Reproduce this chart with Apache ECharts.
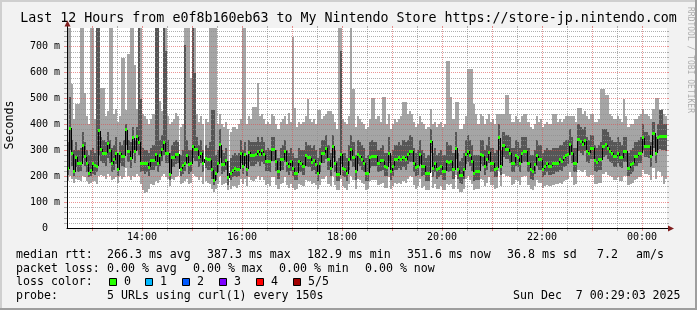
<!DOCTYPE html>
<html><head><meta charset="utf-8">
<script src="https://cdn.jsdelivr.net/npm/echarts@6/dist/echarts.min.js"></script>
<style>html,body{margin:0;padding:0;background:#f2f2f2}#c{width:697px;height:310px}</style>
</head><body><div id="c"></div>
<script>
// ---------------- data ----------------
const titleText = 'Last 12 Hours from e0f8b160eb63 to My Nintendo Store https://store-jp.nintendo.com';
const yAxisName = 'Seconds';
const watermark = 'RRDTOOL / TOBI OETIKER';
const startHour = 12.5;      // 12:30
const endHour = 24.5;        // 00:30
const stepMinutes = 2.5;     // 150 s
const yMax = 771;            // ms

const median = [
229,385,286,216,272,247,247,317,274,247,
212,221,247,240,238,375,304,289,289,324,
300,247,263,289,225,289,276,276,379,295,
266,347,295,351,330,247,250,247,250,234,
259,259,283,247,279,302,328,289,289,208,
270,270,283,285,227,240,250,279,244,247,
315,302,302,270,289,250,266,263,263,225,
182,212,247,321,244,244,259,193,212,221,
231,227,227,289,238,283,227,292,279,279,
283,295,283,298,283,257,257,257,304,302,
257,218,263,263,295,250,238,257,231,212,
212,257,250,238,279,270,270,253,261,244,
209,250,289,289,308,263,231,315,250,205,
205,285,231,225,209,263,302,270,
218,283,276,263,250,212,212,270,276,276,
276,250,259,259,238,234,289,218,238,263,
263,270,263,272,263,283,295,295,250,234,
238,283,238,238,212,212,334,231,250,225,
231,238,218,218,257,253,257,225,308,225,
202,202,225,283,295,279,257,212,218,218,
285,279,238,263,292,250,250,227,231,347,
238,317,304,304,289,250,250,279,270,250,
289,295,295,250,225,218,244,279,263,263,
227,238,250,238,238,247,250,250,263,257,
270,279,283,321,289,250,250,340,334,321,
337,295,289,308,308,259,253,263,263,315,
321,308,295,289,276,276,289,270,270,295,
295,231,244,250,276,276,289,289,347,315,
315,315,276,366,289,347,353,351,351,351
];

const smokeLightHigh = [
800,800,556,420,477,477,800,800,519,430,
400,800,800,420,800,800,538,538,430,450,
800,800,440,460,410,430,654,654,454,669,
800,800,627,460,800,800,440,430,420,400,
420,440,800,800,488,450,800,800,430,400,
410,420,442,430,390,400,800,800,800,577,
800,800,440,410,430,400,420,410,800,800,
800,800,400,438,400,390,410,380,370,390,
390,380,400,420,800,800,400,430,420,465,
465,558,430,440,420,400,410,400,440,430,
400,380,410,420,430,400,442,410,735,462,
390,410,400,410,430,496,420,410,420,400,
454,454,420,430,440,450,450,440,410,380,
800,800,420,410,400,430,800,535,
390,430,420,410,400,380,390,420,500,500,
420,431,410,504,504,400,440,380,400,420,
410,420,430,485,485,440,450,440,410,390,
400,430,410,400,380,390,460,400,410,390,
400,410,390,400,642,642,504,420,485,485,
380,380,400,431,612,612,612,477,438,400,
438,430,400,420,440,410,420,400,438,438,
438,438,512,512,440,410,410,430,420,410,
430,440,440,410,390,380,400,430,410,420,
390,400,410,400,400,438,438,410,420,410,
420,430,431,431,431,431,410,462,462,440,
450,430,420,440,440,410,410,420,535,535,
512,512,440,430,420,420,430,420,410,496,
430,390,400,400,420,420,430,440,460,440,
440,430,420,460,500,500,450,460,440,430
];

const smokeDarkHigh = [
330,504,340,300,330,300,310,370,330,300,
280,300,310,290,800,800,350,340,330,370,
340,310,320,350,290,330,320,340,400,340,
330,390,340,390,800,496,310,300,300,290,
310,320,800,800,340,360,800,681,340,290,
320,330,340,330,280,300,704,340,300,300,
800,596,350,320,340,300,320,310,330,454,
454,280,300,380,300,290,310,260,270,280,
290,280,290,340,300,330,280,340,330,330,
330,350,330,350,330,300,310,300,350,350,
300,270,310,320,340,300,290,310,290,270,
270,310,300,300,330,320,320,310,320,300,
270,310,340,340,360,320,290,360,300,260,
270,681,290,290,270,320,360,330,
280,340,330,320,310,270,280,330,340,330,
330,300,310,320,290,290,350,280,300,320,
320,330,320,340,330,340,360,350,310,290,
300,340,300,290,270,280,380,290,310,280,
290,300,280,280,330,320,320,290,370,290,
260,270,290,340,360,340,320,280,280,280,
340,340,300,320,350,310,310,290,300,400,
300,370,360,360,350,310,310,340,330,310,
350,350,350,310,280,280,300,340,320,320,
290,300,310,300,300,310,310,310,320,320,
330,340,340,380,350,310,310,400,390,380,
390,350,340,360,360,320,310,320,330,380,
380,370,350,340,330,330,350,330,320,350,
350,290,300,310,330,330,340,350,400,370,
370,360,330,410,350,400,454,454,400,400
];

const smokeDarkLow = [
205,300,240,200,235,215,220,270,240,215,
195,200,210,205,215,280,260,250,240,270,
250,215,225,245,200,250,240,235,320,255,
230,290,250,300,280,215,220,210,215,200,
225,225,240,215,240,260,280,250,250,185,
235,235,245,250,200,210,220,245,210,215,
270,260,260,235,250,215,230,225,225,190,
165,185,215,270,210,215,225,165,185,195,
200,195,200,250,210,245,200,255,240,240,
245,255,240,255,245,220,220,215,260,260,
220,190,225,225,255,215,205,220,200,185,
185,220,215,205,240,235,235,220,225,210,
180,215,250,250,265,225,200,270,215,180,
180,245,200,195,180,225,260,235,
185,245,240,225,215,180,180,230,240,240,
240,215,220,225,200,200,250,185,200,225,
225,230,225,235,225,245,255,255,215,200,
205,245,200,205,180,180,290,195,215,190,
195,205,185,185,220,215,220,190,265,190,
175,170,190,245,255,240,220,180,185,185,
245,240,205,225,250,215,215,195,195,300,
205,275,265,265,250,215,215,240,235,215,
250,255,255,215,190,185,210,240,225,225,
195,205,215,205,205,210,215,215,225,220,
235,240,245,280,250,215,215,295,290,280,
295,255,250,265,265,220,215,225,225,275,
280,265,255,250,235,235,250,235,230,255,
255,200,210,215,240,240,250,250,300,275,
275,270,235,310,250,300,305,300,300,295
];

const smokeLightLow = [
180,200,190,175,190,185,180,200,195,180,
170,175,180,180,170,200,205,200,190,210,
200,185,190,195,175,200,190,195,230,200,
185,200,195,210,200,170,145,135,140,150,
170,165,180,175,185,200,210,195,190,160,
190,185,195,200,170,175,180,190,170,175,
210,200,195,185,195,170,180,175,170,150,
140,150,170,200,165,170,175,145,150,160,
160,155,165,190,170,190,160,195,185,180,
190,200,185,195,185,165,170,160,195,195,
165,150,170,175,195,165,155,170,155,145,
150,170,165,160,185,180,180,170,175,165,
150,165,190,190,200,170,160,200,165,145,
145,190,160,155,145,170,200,185,
150,190,185,175,170,145,150,180,185,185,
185,165,170,175,155,155,195,150,160,175,
170,175,170,180,175,190,200,195,165,150,
160,190,155,160,145,145,215,155,170,150,
150,160,145,145,170,165,170,150,205,150,
140,140,150,190,200,185,170,145,150,150,
190,185,160,175,195,165,165,150,155,220,
160,210,200,200,195,165,170,185,180,165,
195,200,200,165,150,145,160,185,175,175,
155,160,165,160,160,165,170,170,175,170,
180,185,190,215,195,165,170,225,220,215,
225,200,195,205,205,170,170,175,175,210,
215,205,200,195,185,185,195,180,180,200,
200,165,170,175,185,190,195,195,225,210,
210,205,185,230,190,220,215,200,170,190
];

const hGridValues = [20,40,60,80,100,120,140,160,180,200,220,240,260,280,300,320,340,360,380,400,
  420,440,460,480,500,520,540,560,580,600,620,640,660,680,700,720,740,760];
const vGridHours = [13,13.5,14,14.5,15,15.5,16,16.5,17,17.5,18,18.5,19,19.5,20,20.5,21,21.5,22,22.5,23,23.5,24];

const rttLabel = 'median rtt:';
const rttStats = ['266.3 ms avg','387.3 ms max','182.9 ms min','351.6 ms now','36.8 ms sd','7.2','am/s'];
const lossLabel = 'packet loss:';
const lossStats = ['0.00 % avg','0.00 % max','0.00 % min','0.00 % now'];
const lossColorLabel = 'loss color:';
const lossColorNames = ['0','1','2','3','4','5/5'];
const lossColors = ['#26ff00','#00b8ff','#0059ff','#7e00ff','#ff0000','#a10000'];
const probeLabel = 'probe:';
const probeText = '5 URLs using curl(1) every 150s';
const dateText = 'Sun Dec  7 00:29:03 2025';

// ---------------- rendering ----------------
const FONT = "'DejaVu Sans Mono', 'Liberation Mono', monospace";
const stepH = stepMinutes / 60;
const n = Math.min(median.length, smokeLightHigh.length, smokeDarkHigh.length, smokeDarkLow.length, smokeLightLow.length);
const times = [];
for (let k = 0; k < n; k++) times.push(startHour + k * stepH);

const LIGHT = '#a5a5a5', DARK = '#565656';
const GRID = 'rgba(143,143,143,0.7)', MGRID = 'rgba(222,79,79,0.6)';

const smokeData = times.map((t, k) => [t, smokeLightLow[k], smokeDarkLow[k], smokeDarkHigh[k], smokeLightHigh[k]]);
const medData = times.map((t, k) => [t, median[k], k + 1 < n ? median[k + 1] : median[k]]);

function clampY(v) { return Math.max(0, Math.min(yMax, v)); }

function txt(x, y, s, size, opts) {
  opts = opts || {};
  return {
    type: 'text', x: x, y: y, silent: true, rotation: opts.rotation || 0, z: 50,
    style: {
      text: s, font: size + 'px ' + FONT, fill: opts.fill || '#000',
      textAlign: opts.align || 'left', textVerticalAlign: 'middle',
      align: opts.align || 'left', verticalAlign: 'middle'
    }
  };
}

const graphics = [];
// 3D border
graphics.push({type:'rect', silent:true, z:40, shape:{x:0,y:0,width:697,height:2}, style:{fill:'#cfcfcf'}});
graphics.push({type:'rect', silent:true, z:40, shape:{x:0,y:0,width:2,height:310}, style:{fill:'#cfcfcf'}});
graphics.push({type:'rect', silent:true, z:40, shape:{x:0,y:308,width:697,height:2}, style:{fill:'#9e9e9e'}});
graphics.push({type:'rect', silent:true, z:40, shape:{x:695,y:0,width:2,height:310}, style:{fill:'#9e9e9e'}});
// title, axis name, watermark
graphics.push(txt(348.5, 19, titleText, 13.3, {align:'center'}));
graphics.push(txt(10, 125, yAxisName, 11.6, {align:'center', rotation: Math.PI / 2}));
graphics.push(txt(690.5, 60, watermark, 8, {align:'center', rotation: -Math.PI / 2, fill:'rgba(0,0,0,0.3)'}));
// axis arrows
graphics.push({type:'line', silent:true, z:60, shape:{x1:67.5,y1:24,x2:67.5,y2:29}, style:{stroke:'#000',lineWidth:1}});
graphics.push({type:'polygon', silent:true, z:61, shape:{points:[[64.5,26.5],[67.5,20.5],[70.5,26.5]]}, style:{fill:'#801f1f'}});
graphics.push({type:'line', silent:true, z:60, shape:{x1:666,y1:228.5,x2:670,y2:228.5}, style:{stroke:'#000',lineWidth:1}});
graphics.push({type:'polygon', silent:true, z:61, shape:{points:[[668,225.5],[674,228.5],[668,231.5]]}, style:{fill:'#801f1f'}});
// legend rows
const rowY = [255, 268.5, 282, 296];
const LF = 11.6;
graphics.push(txt(16, rowY[0], rttLabel, LF));
const rttX = [107, 207, 307, 407, 507, 597, 636];
rttStats.forEach((s, i) => graphics.push(txt(rttX[i], rowY[0], s, LF)));
graphics.push(txt(16, rowY[1], lossLabel, LF));
lossStats.forEach((s, i) => graphics.push(txt(107 + i * 86, rowY[1], s, LF)));
graphics.push(txt(16, rowY[2], lossColorLabel, LF));
lossColorNames.forEach((s, i) => {
  const bx = 108.5 + i * 36.85;
  graphics.push({type:'rect', silent:true, z:50, shape:{x:Math.round(bx)+0.5, y:278.5, width:7, height:7},
    style:{fill:lossColors[i], stroke:'#000', lineWidth:1}});
  graphics.push(txt(Math.round(bx) + 15, rowY[2], s, LF));
});
graphics.push(txt(16, rowY[3], probeLabel, LF));
graphics.push(txt(107, rowY[3], probeText, LF));
graphics.push(txt(513, rowY[3], dateText, LF));

const chart = echarts.init(document.getElementById('c'), null, {renderer:'canvas', width:697, height:310});

const option = {
  animation: false,
  backgroundColor: '#f2f2f2',
  grid: { left: 67, right: 30, top: 28, bottom: 82, show: true, backgroundColor: '#ffffff', borderWidth: 0,
          containLabel: false, outerBoundsMode: 'none' },
  xAxis: {
    type: 'value', min: startHour, max: endHour, interval: 0.5, z: 5,
    axisLine: { show: true, onZero: false, lineStyle: { color: '#000', width: 1 } },
    axisTick: { show: false },
    splitLine: { show: false },
    axisLabel: {
      show: true, margin: 4, fontFamily: FONT, fontSize: 10, color: '#000',
      showMinLabel: true, showMaxLabel: true,
      formatter: function (v) {
        const r = Math.round(v);
        if (Math.abs(v - r) > 1e-6 || r % 2 !== 0) return '';
        return String(r % 24).padStart(2, '0') + ':00';
      }
    }
  },
  yAxis: {
    type: 'value', min: 0, max: yMax, interval: 100, z: 5,
    axisLine: { show: true, lineStyle: { color: '#000', width: 1 } },
    axisTick: { show: false },
    splitLine: { show: false },
    axisLabel: {
      margin: 7, fontFamily: FONT, fontSize: 10, color: '#000', showMaxLabel: false,
      formatter: function (v) { return v === 0 ? '0  ' : (v >= yMax ? '' : v + ' m'); }
    }
  },
  graphic: { elements: graphics },
  series: [
    {
      name: 'smoke', type: 'custom', z: 1, clip: true, silent: true,
      data: smokeData, encode: { x: 0, y: [1, 2, 3, 4] },
      renderItem: function (params, api) {
        const t = api.value(0);
        const xa = Math.round(api.coord([t, 0])[0]);
        const xb = Math.round(api.coord([t + stepH, 0])[0]);
        const yLL = Math.round(api.coord([t, clampY(api.value(1))])[1]);
        const yDL = Math.round(api.coord([t, clampY(api.value(2))])[1]);
        const yDH = Math.round(api.coord([t, clampY(api.value(3))])[1]);
        const yLH = Math.round(api.coord([t, clampY(api.value(4))])[1]);
        return { type: 'group', children: [
          { type: 'rect', shape: { x: xa, y: yLH, width: xb - xa, height: yLL - yLH }, style: { fill: LIGHT } },
          { type: 'rect', shape: { x: xa, y: yDH, width: xb - xa, height: yDL - yDH }, style: { fill: DARK } }
        ]};
      }
    },
    {
      name: 'hgrid', type: 'custom', z: 2, clip: false, silent: true,
      data: hGridValues.map(v => [startHour, v]), encode: { x: 0, y: 1 },
      renderItem: function (params, api) {
        const v = api.value(1);
        const c = (v % 100 === 0) ? MGRID : GRID;
        const p0 = api.coord([startHour, v]), p1 = api.coord([endHour, v]);
        const y = Math.round(p0[1]) + 0.5, x0 = Math.round(p0[0]), x1 = Math.round(p1[0]);
        return { type: 'group', children: [
          { type: 'line', shape: { x1: x0 - 3, y1: y, x2: x0, y2: y }, style: { stroke: c, lineWidth: 1 } },
          { type: 'line', shape: { x1: x1, y1: y, x2: x1 + 2, y2: y }, style: { stroke: c, lineWidth: 1 } },
          { type: 'line', shape: { x1: x0, y1: y, x2: x1, y2: y }, style: { stroke: c, lineWidth: 1, lineDash: [1, 1] } }
        ]};
      }
    },
    {
      name: 'vgrid', type: 'custom', z: 2, clip: false, silent: true,
      data: vGridHours.map(h => [h, 0]), encode: { x: 0, y: 1 },
      renderItem: function (params, api) {
        const h = api.value(0);
        const c = (Math.abs(h - Math.round(h)) < 1e-6) ? MGRID : GRID;
        const p0 = api.coord([h, 0]), p1 = api.coord([h, yMax]);
        const x = Math.round(p0[0]) + 0.5, y0 = Math.round(p0[1]), y1 = Math.round(p1[1]);
        return { type: 'group', children: [
          { type: 'line', shape: { x1: x, y1: y0, x2: x, y2: y0 + 3 }, style: { stroke: c, lineWidth: 1 } },
          { type: 'line', shape: { x1: x, y1: y1 - 2, x2: x, y2: y1 }, style: { stroke: c, lineWidth: 1 } },
          { type: 'line', shape: { x1: x, y1: y0, x2: x, y2: y1 }, style: { stroke: c, lineWidth: 1, lineDash: [1, 1] } }
        ]};
      }
    },
    {
      name: 'median rtt', type: 'custom', z: 3, clip: true, silent: true,
      data: medData, encode: { x: 0, y: [1, 2] },
      renderItem: function (params, api) {
        const t = api.value(0);
        const xa = Math.round(api.coord([t, 0])[0]);
        const xb = Math.round(api.coord([t + stepH, 0])[0]);
        const ym = api.coord([t, api.value(1)])[1];
        const yn = api.coord([t, api.value(2)])[1];
        const children = [];
        if (params.dataIndex < n - 1) {
          children.push({ type: 'line', shape: { x1: xb + 0.5, y1: Math.round(ym), x2: xb + 0.5, y2: Math.round(yn) },
            style: { stroke: '#000', lineWidth: 1 } });
        }
        children.push({ type: 'rect', shape: { x: xa, y: Math.round(ym - 1.5), width: xb - xa, height: 3 },
          style: { fill: lossColors[0] } });
        return { type: 'group', children: children };
      }
    }
  ]
};
chart.setOption(option);
</script>
</body></html>
